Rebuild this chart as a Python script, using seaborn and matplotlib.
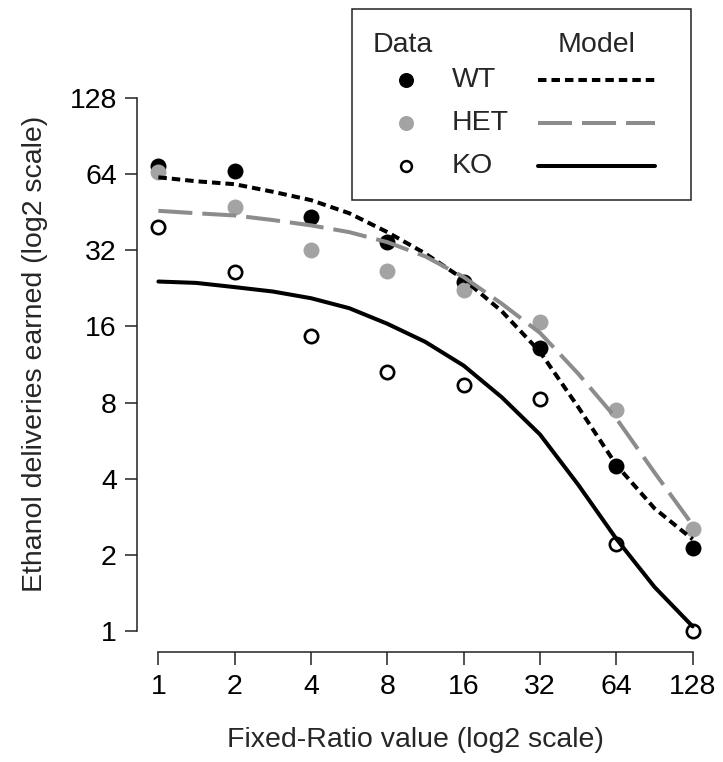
import matplotlib
matplotlib.use("Agg")
import matplotlib.pyplot as plt
from matplotlib.lines import Line2D
from matplotlib.patches import Rectangle
from matplotlib.ticker import FixedLocator, FixedFormatter, NullLocator
import seaborn as sns
import pandas as pd

# Observed deliveries per fixed-ratio schedule
fr_values = [1, 2, 4, 8, 16, 32, 64, 128]
wt_obs = [69.0, 66.0, 43.4, 34.5, 23.9, 13.1, 4.5, 2.12]
het_obs = [65.4, 47.6, 32.0, 26.5, 22.3, 16.7, 7.46, 2.53]
ko_obs = [39.6, 26.3, 14.7, 10.6, 9.4, 8.25, 2.2, 1.0]

# Fitted demand curves
model_fr = [1, 1.41, 2, 2.83, 4, 5.66, 8, 11.3, 16, 22.6, 32, 45.3, 64, 90.5, 128]
wt_model = [62.3, 60.1, 58.5, 54.6, 50.6, 44.9, 37.8, 31.1, 24.6, 18.4, 12.7, 7.67, 4.53, 3.05, 2.30]
het_model = [45.9, 44.9, 44.0, 42.2, 40.2, 37.8, 34.5, 30.3, 25.1, 19.7, 15.1, 10.4, 6.92, 4.23, 2.62]
ko_model = [24.1, 23.8, 22.9, 22.0, 20.7, 18.9, 16.4, 13.9, 11.2, 8.40, 5.98, 3.78, 2.31, 1.49, 1.04]

tick_values = [1, 2, 4, 8, 16, 32, 64, 128]
tick_labels = ["1", "2", "4", "8", "16", "32", "64", "128"]

sns.set_style("ticks")
plt.rcParams["font.family"] = ["Liberation Sans", "DejaVu Sans"]
plt.rcParams["lines.scale_dashes"] = False

W, H = 723, 762
fig = plt.figure(figsize=(W / 100, H / 100), dpi=100)

def fx(px):
    return px / W

def fy(py):
    return 1 - py / H

ax = fig.add_axes([fx(137), fy(652), (714 - 137) / W, (652 - 77) / H])
ax.set_xscale("log", base=2)
ax.set_yscale("log", base=2)
ax.set_xlim(2 ** -0.28, 2 ** 7.28)
ax.set_ylim(2 ** -0.28, 2 ** 7.28)

GRAY_PT = "#a3a3a3"
GRAY_LN = "#8c8c8c"
FS = 20.5

obs = pd.DataFrame({"fr": fr_values, "WT": wt_obs, "HET": het_obs, "KO": ko_obs})
mod = pd.DataFrame({"fr": model_fr, "WT": wt_model, "HET": het_model, "KO": ko_model})

sns.scatterplot(data=obs, x="fr", y="WT", ax=ax, color="black", s=132,
                linewidth=0, zorder=3)
sns.scatterplot(data=obs, x="fr", y="HET", ax=ax, color=GRAY_PT, s=132,
                linewidth=0, zorder=3)
sns.scatterplot(data=obs, x="fr", y="KO", ax=ax, facecolor="white",
                edgecolor="black", s=92, linewidth=1.9, zorder=3)

lw = 2.9
sns.lineplot(data=mod, x="fr", y="WT", ax=ax, color="black", lw=lw,
             linestyle=(0, (6.1, 3.6)), estimator=None, sort=False, zorder=4)
sns.lineplot(data=mod, x="fr", y="HET", ax=ax, color=GRAY_LN, lw=lw,
             linestyle=(0, (24.5, 7.2)), estimator=None, sort=False, zorder=4)
sns.lineplot(data=mod, x="fr", y="KO", ax=ax, color="black", lw=lw,
             linestyle="-", estimator=None, sort=False, zorder=4)
for ln in ax.lines:
    ln.set_dash_capstyle("butt")
    ln.set_solid_joinstyle("round")
    ln.set_dash_joinstyle("round")

# axes in the classic detached style
for side in ("top", "right"):
    ax.spines[side].set_visible(False)
for side in ("left", "bottom"):
    ax.spines[side].set_linewidth(1.1)
    ax.spines[side].set_color("#222222")
ax.spines["left"].set_bounds(1, 128)
ax.spines["bottom"].set_bounds(1, 128)

for axis in (ax.xaxis, ax.yaxis):
    axis.set_major_locator(FixedLocator(tick_values))
    axis.set_major_formatter(FixedFormatter(tick_labels))
    axis.set_minor_locator(NullLocator())
ax.tick_params(axis="both", which="major", length=9, width=1.1,
               color="#222222", labelsize=FS, labelcolor="black")
ax.tick_params(axis="x", pad=7)
ax.tick_params(axis="y", pad=5.5)

ax.set_xlabel("Fixed-Ratio value (log2 scale)", fontsize=FS, va="center")
ax.set_ylabel("Ethanol deliveries earned (log2 scale)", fontsize=FS, va="center")
ax.xaxis.set_label_coords((415 - 137) / 577, -(740 - 652) / 575)
ax.yaxis.set_label_coords(-(137 - 35) / 577, (652 - 354) / 575)

# legend box
fig.add_artist(Rectangle((fx(352), fy(200)), fx(691) - fx(352), fy(9) - fy(200),
                         transform=fig.transFigure, fill=True, facecolor="white",
                         edgecolor="#222222", linewidth=1.1, zorder=10))
fig.text(fx(403), fy(45), "Data", fontsize=FS, ha="center", va="center", zorder=11)
fig.text(fx(597), fy(45), "Model", fontsize=FS, ha="center", va="center", zorder=11)

rows = [
    ("WT", 80, dict(marker="o", markersize=10.8, markerfacecolor="black",
                    markeredgewidth=0), dict(color="black", linestyle=(0, (6.1, 3.6)))),
    ("HET", 123, dict(marker="o", markersize=10.8, markerfacecolor=GRAY_PT,
                      markeredgewidth=0), dict(color=GRAY_LN, linestyle=(0, (24.5, 7.2)))),
    ("KO", 166, dict(marker="o", markersize=7.8, markerfacecolor="white",
                     markeredgecolor="black", markeredgewidth=1.8),
     dict(color="black", linestyle="-")),
]
for name, yrow, mk, lst in rows:
    fig.add_artist(Line2D([fx(406)], [fy(yrow)], transform=fig.transFigure,
                          linestyle="none", zorder=11, **mk))
    fig.text(fx(452), fy(yrow), name, fontsize=FS, ha="left", va="center", zorder=11)
    fig.add_artist(Line2D([fx(538), fx(655)], [fy(yrow), fy(yrow)],
                          transform=fig.transFigure, linewidth=lw,
                          dash_capstyle="butt", zorder=11, **lst))

fig.savefig("out.png", dpi=100)
